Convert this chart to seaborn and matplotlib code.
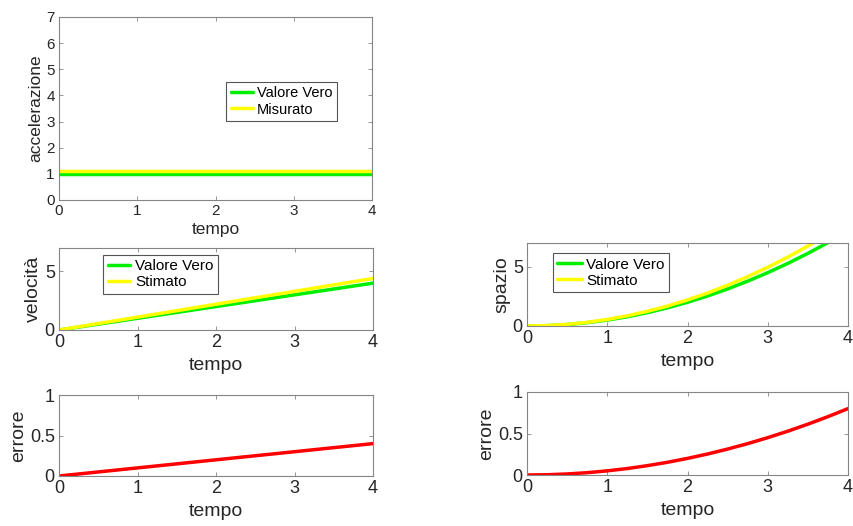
import numpy as np
import pandas as pd
import matplotlib
matplotlib.use("Agg")
import matplotlib.pyplot as plt
import seaborn as sns

sns.set_theme(style="white")
plt.rcParams['font.family'] = ['Liberation Sans', 'DejaVu Sans']

# ---- data ----
tempo = [0, 0.25, 0.5, 0.75, 1, 1.25, 1.5, 1.75, 2, 2.25, 2.5, 2.75, 3, 3.25, 3.5, 3.75, 4]
acc_vero = [1.0] * 17
acc_misurato = [1.1] * 17
vel_vero = [0, 0.25, 0.5, 0.75, 1, 1.25, 1.5, 1.75, 2, 2.25, 2.5, 2.75, 3, 3.25, 3.5, 3.75, 4]
vel_stimato = [0, 0.275, 0.55, 0.825, 1.1, 1.375, 1.65, 1.925, 2.2, 2.475, 2.75, 3.025, 3.3, 3.575, 3.85, 4.125, 4.4]
err_vel = [0, 0.025, 0.05, 0.075, 0.1, 0.125, 0.15, 0.175, 0.2, 0.225, 0.25, 0.275, 0.3, 0.325, 0.35, 0.375, 0.4]
spa_vero = [0, 0.03, 0.125, 0.28, 0.5, 0.78, 1.125, 1.53, 2.0, 2.53, 3.125, 3.78, 4.5, 5.28, 6.125, 7.03, 8.0]
spa_stimato = [0, 0.034, 0.1375, 0.31, 0.55, 0.86, 1.24, 1.68, 2.2, 2.78, 3.44, 4.16, 4.95, 5.81, 6.74, 7.73, 8.8]
err_spa = [0, 0.003, 0.0125, 0.028, 0.05, 0.078, 0.1125, 0.153, 0.2, 0.253, 0.3125, 0.378, 0.45, 0.528, 0.6125, 0.703, 0.8]

GREEN = '#00ee00'
YELLOW = '#ffff00'
RED = '#ff0000'
SPINE = '#858585'
TXT = '#262626'

W, H = 854, 526
fig = plt.figure(figsize=(W / 100, H / 100), dpi=100)

def ax_px(l, t, r, b):
    return fig.add_axes([l / W, 1 - b / H, (r - l) / W, (b - t) / H])

def style(ax, tick_fs, label_fs, ylabel, yticks, ylim, yticklabels=None, xpad=1):
    ax.set_xlim(0, 4)
    ax.set_ylim(*ylim)
    ax.set_xticks([0, 1, 2, 3, 4])
    ax.set_yticks(yticks)
    if yticklabels is not None:
        ax.set_yticklabels(yticklabels)
    for s in ax.spines.values():
        s.set_visible(True)
        s.set_color(SPINE)
        s.set_linewidth(0.8)
    ax.tick_params(direction='in', length=3, width=0.6, color=SPINE,
                   top=True, right=True, bottom=True, left=True,
                   labelsize=tick_fs, labelcolor=TXT, pad=3)
    ax.set_xlabel('tempo', fontsize=label_fs, color=TXT, labelpad=xpad)
    ax.set_ylabel(ylabel, fontsize=label_fs, color=TXT, labelpad=2)
    ax.set_facecolor('white')

def legend(ax, loc, fs, hl=1.8):
    leg = ax.legend(loc='upper left', bbox_to_anchor=loc, fontsize=fs, frameon=True,
                    fancybox=False, framealpha=1, edgecolor='#555555',
                    handlelength=hl, handletextpad=0.3, borderpad=0.3,
                    labelspacing=0.15, borderaxespad=0)
    leg.get_frame().set_linewidth(0.8)
    for t in leg.get_texts():
        t.set_color('black')

# ---- top-left: accelerazione ----
ax1 = ax_px(59, 17, 372, 200)
sns.lineplot(x=tempo, y=acc_vero, ax=ax1, color=GREEN, lw=2.5, label='Valore Vero')
sns.lineplot(x=tempo, y=acc_misurato, ax=ax1, color=YELLOW, lw=2.5, label='Misurato')
style(ax1, 11, 12.5, 'accelerazione', range(0, 8), (0, 7), xpad=3)
legend(ax1, (0.535, 0.645), 10.5, hl=1.5)

# ---- mid-left: velocità ----
ax2 = ax_px(59, 248, 373, 330)
sns.lineplot(x=tempo, y=vel_vero, ax=ax2, color=GREEN, lw=2.5, label='Valore Vero')
sns.lineplot(x=tempo, y=vel_stimato, ax=ax2, color=YELLOW, lw=2.5, label='Stimato')
style(ax2, 13, 14, 'velocità', [0, 5], (0, 7), xpad=4)
legend(ax2, (0.14, 0.92), 11, hl=1.5)

# ---- bottom-left: errore ----
ax3 = ax_px(59, 395, 373, 476)
sns.lineplot(x=tempo, y=err_vel, ax=ax3, color=RED, lw=2.5)
style(ax3, 13, 14, 'errore', [0, 0.5, 1], (0, 1), ['0', '0.5', '1'], xpad=4)

# ---- mid-right: spazio ----
ax4 = ax_px(527, 243, 848, 326)
sns.lineplot(x=tempo, y=spa_vero, ax=ax4, color=GREEN, lw=2.5, label='Valore Vero')
sns.lineplot(x=tempo, y=spa_stimato, ax=ax4, color=YELLOW, lw=2.5, label='Stimato')
style(ax4, 13, 14, 'spazio', [0, 5], (0, 7), xpad=4)
legend(ax4, (0.08, 0.88), 11, hl=1.6)

# ---- bottom-right: errore ----
ax5 = ax_px(527, 392, 848, 475)
sns.lineplot(x=tempo, y=err_spa, ax=ax5, color=RED, lw=2.5)
style(ax5, 13, 14, 'errore', [0, 0.5, 1], (0, 1), ['0', '0.5', '1'], xpad=4)

fig.savefig('out.png', dpi=100, facecolor='white')
